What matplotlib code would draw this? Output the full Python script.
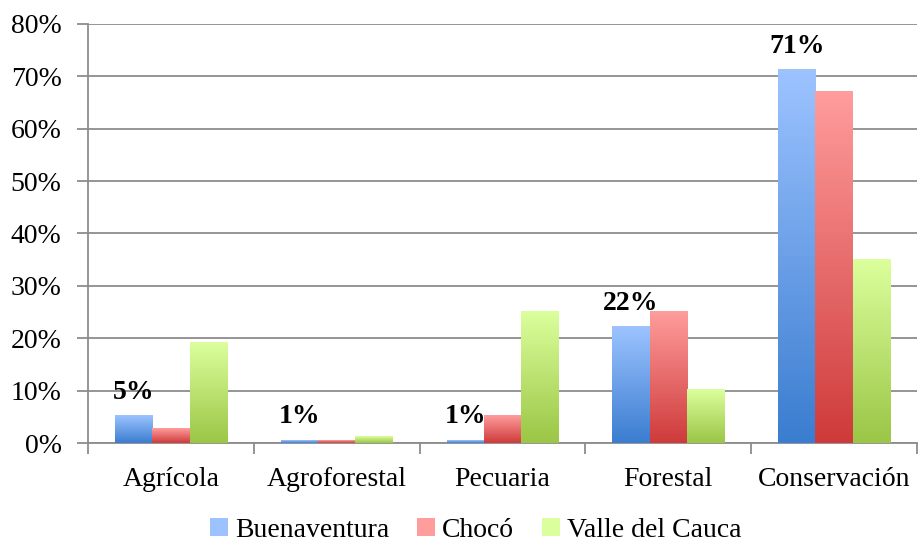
import numpy as np
import matplotlib.pyplot as plt
from matplotlib.colors import LinearSegmentedColormap
from matplotlib.patches import Patch

categorias = ["Agrícola", "Agroforestal", "Pecuaria", "Forestal", "Conservación"]
series = ["Buenaventura", "Chocó", "Valle del Cauca"]
buenaventura = [5.2, 0.5, 0.5, 22.2, 71.2]
choco = [2.7, 0.5, 5.2, 25.1, 67.1]
valle = [19.2, 1.2, 25.0, 10.2, 35.0]
etiquetas = ["5%", "1%", "1%", "22%", "71%"]

# cores (topo claro, base escura)
cores = [("#9cc3ff", "#3b7dd0"), ("#ff9c9c", "#cf3b3b"), ("#dbff9c", "#9bc646")]

plt.rcParams['font.family'] = ['Liberation Serif', 'DejaVu Serif']

fig = plt.figure(figsize=(9.18, 5.41), dpi=100)
ax = fig.add_axes([0.0959, 0.181, 0.903, 0.775])

x = np.arange(len(categorias))
w = 0.225
grad = np.linspace(1, 0, 100).reshape(-1, 1)

for i, (vals, (c_top, c_bot)) in enumerate(zip([buenaventura, choco, valle], cores)):
    cmap = LinearSegmentedColormap.from_list(f"g{i}", [c_bot, c_top])
    bars = ax.bar(x + (i - 1) * w, vals, w, color=c_top, zorder=2)
    for b in bars:
        # preenchimento em degradê em cada barra
        ax.imshow(grad, cmap=cmap, aspect='auto', zorder=3,
                  extent=[b.get_x(), b.get_x() + b.get_width(), 0, b.get_height()])
        b.set_alpha(0)

# rótulos em negrito sobre Buenaventura
for xi, v, txt in zip(x, buenaventura, etiquetas):
    ax.annotate(txt, (xi - w, v), xytext=(0, 8), textcoords='offset points',
                ha='center', va='bottom', fontsize=20, fontweight='bold', zorder=5)

ax.set_xlim(-0.5, 4.5)
ax.set_ylim(0, 80)
ax.set_yticks(range(0, 81, 10))
ax.set_yticklabels([f"{v}%" for v in range(0, 81, 10)], fontsize=20)
ax.yaxis.grid(True, color='#8c8c8c', linewidth=1.3, zorder=0)
ax.set_axisbelow(True)

ax.set_xticks(x)
ax.set_xticklabels(categorias, fontsize=20)
ax.tick_params(axis='x', length=0, pad=17)
ax.set_xticks(np.arange(-0.5, 5, 1), minor=True)
ax.tick_params(axis='x', which='minor', length=8, width=1.3, color='#8c8c8c', direction='out')
ax.tick_params(axis='y', length=8, width=1.3, color='#8c8c8c', pad=11)

for s in ['top', 'right']:
    ax.spines[s].set_visible(False)
for s in ['left', 'bottom']:
    ax.spines[s].set_color('#8c8c8c')
    ax.spines[s].set_linewidth(1.3)

handles = [Patch(facecolor=c[0], edgecolor='none') for c in cores]
fig.legend(handles, series, loc='center', bbox_to_anchor=(0.518, 0.02), ncol=3,
           frameon=False, fontsize=20, handlelength=0.65, handleheight=0.65,
           handletextpad=0.25, columnspacing=1.0)

fig.savefig("out.png", dpi=100)
